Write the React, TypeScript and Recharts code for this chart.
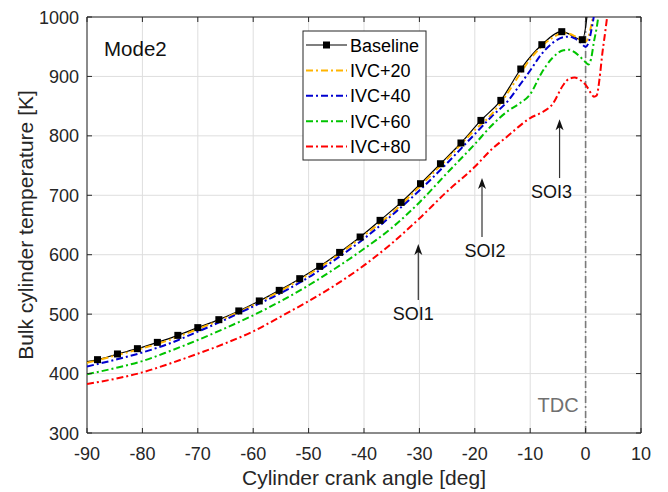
import React from "react";
import {
  CartesianGrid,
  Customized,
  Line,
  LineChart,
  ReferenceArea,
  ReferenceLine,
  XAxis,
  YAxis,
} from "recharts";

const FONT = '"Liberation Sans", Arial, Helvetica, sans-serif';
const INK = "#262626";

// plot box in pixels (from chart margins)
const PLOT_LEFT = 87;
const PLOT_RIGHT = 641;
const PLOT_TOP = 17;
const PLOT_BOTTOM = 433;

const xTicks = [-90, -80, -70, -60, -50, -40, -30, -20, -10, 0, 10];
const yTicks = [300, 400, 500, 600, 700, 800, 900, 1000];

// baseline: one point per marker, plus start and the climb after TDC
const baselineAngle = [
  -90, -88.1, -84.5, -80.9, -77.3, -73.6, -70.0, -66.2, -62.6, -58.9, -55.3,
  -51.6, -48.0, -44.4, -40.7, -37.1, -33.3, -29.8, -26.2, -22.5, -18.9, -15.3,
  -11.7, -7.9, -4.3, -0.6, 0.3, 1.0,
];
const baselineTemp = [
  420, 423.4, 433.0, 441.9, 452.5, 464.3, 477.3, 490.7, 505.4, 522.2, 540.0,
  559.7, 580.4, 603.9, 629.8, 657.8, 688.0, 719.5, 753.1, 788.0, 826.0, 859.7,
  912.5, 953.4, 975.3, 961.8, 1005, 1080,
];

const angleGrid = [
  -90, -85, -80, -75, -70, -65, -60, -55, -50, -45, -40, -35, -30, -25, -20,
  -17, -14, -12, -10, -8, -6, -4, -3, -2, -1, 0, 0.5, 1, 1.5, 2, 2.5, 3, 3.5,
  4, 5,
];
const ivc20 = [
  418, 430, 442.5, 457, 475, 493.5, 515, 539.5, 566.5, 597.5, 632.5, 669.5,
  714.5, 761, 810, 836, 873, 902, 929, 950, 965, 973, 972, 968, 962, 959, 966,
  985, 1010, 1040, 1080, 1120, 1160, 1200, 1280,
];
const ivc40 = [
  412, 423, 435.5, 451, 470.5, 491, 513, 535.5, 562, 593, 627, 666, 708, 754,
  803, 832, 859, 884, 910, 937, 956, 966, 967, 964, 958, 950, 956, 976, 1002,
  1035, 1070, 1110, 1150, 1190, 1270,
];
const ivc60 = [
  399, 409, 421, 438, 456.5, 476.5, 498, 522, 548.5, 578, 610, 645, 688, 737.5,
  786, 817, 842, 854, 870, 905, 931, 944, 945, 941, 933, 924, 920, 930, 958,
  982, 1015, 1050, 1090, 1130, 1200,
];
const ivc80 = [
  382.5, 391, 402, 417, 433.4, 451, 471, 496, 522, 550, 582, 619, 661, 706.5,
  748, 777, 800, 816, 830, 839, 853, 886, 896, 898, 894, 886, 879, 871, 866,
  868, 895, 937, 972, 1008, 1080,
];

const seriesNames = ["Baseline", "IVC+20", "IVC+40", "IVC+60", "IVC+80"];
const seriesKeys = ["base", "ivc20", "ivc40", "ivc60", "ivc80"];
const seriesColors = ["#000000", "#FFB400", "#0000D0", "#00C400", "#FF0000"];

const soiLabels = ["SOI1", "SOI2", "SOI3"];
const soiAngle = [-30.2, -18.7, -4.7];
const soiTip = [618, 729, 828];
const soiTail = [524, 630, 729];
const soiLabelDx = [-5, 3, -8];

const DASH_DOT = "7 3 2 3";

const baselineData = baselineAngle.map((angle, i) => ({
  angle,
  base: baselineTemp[i],
}));

const ivcData = angleGrid.map((angle, i) => ({
  angle,
  ivc20: ivc20[i],
  ivc40: ivc40[i],
  ivc60: ivc60[i],
  ivc80: ivc80[i],
}));

const renderMarker = (props: any) => {
  const { cx, cy, index } = props;
  if (index === 0 || index >= baselineAngle.length - 2) {
    return <g key={`m${index}`} />;
  }
  return (
    <rect key={`m${index}`} x={cx - 3.5} y={cy - 3.5} width={7} height={7} fill="#000" />
  );
};

const XTick = (props: any) => {
  const { x, y, payload } = props;
  return (
    <g>
      <line x1={x} y1={y} x2={x} y2={y - 5} stroke={INK} />
      <line x1={x} y1={PLOT_TOP} x2={x} y2={PLOT_TOP + 5} stroke={INK} />
      <text x={x} y={y + 26.5} textAnchor="middle" fontSize={18} fill={INK} fontFamily={FONT}>
        {payload.value}
      </text>
    </g>
  );
};

const YTick = (props: any) => {
  const { x, y, payload } = props;
  return (
    <g>
      <line x1={x} y1={y} x2={x + 5} y2={y} stroke={INK} />
      <line x1={PLOT_RIGHT - 5} y1={y} x2={PLOT_RIGHT} y2={y} stroke={INK} />
      <text x={x - 8} y={y + 6.5} textAnchor="end" fontSize={18} fill={INK} fontFamily={FONT}>
        {payload.value}
      </text>
    </g>
  );
};

const SoiArrow = (label: string, dx: number) => (props: any) => {
  const { x1, y1, x2, y2 } = props;
  const tipY = Math.min(y1, y2);
  const tailY = Math.max(y1, y2);
  const x = x1 ?? x2;
  return (
    <g>
      <line x1={x} y1={tailY} x2={x} y2={tipY + 6} stroke="#333" strokeWidth={1.2} />
      <path d={`M${x},${tipY} L${x - 4},${tipY + 11} L${x},${tipY + 8} L${x + 4},${tipY + 11} Z`} fill="#111" />
      <text x={x + dx} y={tailY + 20} textAnchor="middle" fontSize={18} fill="#111" fontFamily={FONT}>
        {label}
      </text>
    </g>
  );
};

const Annotations = () => (
  <g fontFamily={FONT}>
    <text x={104} y={56} fontSize={20.5} fill="#111">
      Mode2
    </text>
    <text x={364} y={485} textAnchor="middle" fontSize={21} fill={INK}>
      Cylinder crank angle [deg]
    </text>
    <text
      x={25}
      y={225}
      textAnchor="middle"
      dominantBaseline="central"
      fontSize={21}
      fill={INK}
      transform="rotate(-90 25 225)"
    >
      Bulk cylinder temperature [K]
    </text>
    <rect x={303} y={31} width={123} height={129} fill="#fff" stroke={INK} />
    {seriesNames.map((name, i) => {
      const y = 45 + i * 25.4;
      return (
        <g key={name}>
          <line
            x1={306}
            x2={347}
            y1={y}
            y2={y}
            stroke={seriesColors[i]}
            strokeWidth={i === 0 ? 1.2 : 2}
            strokeDasharray={i === 0 ? undefined : DASH_DOT}
          />
          {i === 0 && <rect x={323} y={y - 3.5} width={7} height={7} fill="#000" />}
          <text x={350} y={y + 6.5} fontSize={18} fill="#000">
            {name}
          </text>
        </g>
      );
    })}
  </g>
);

export default function App() {
  return (
    <div style={{ position: "absolute", left: 0, top: 0, width: 668, height: 492, background: "#fff" }}>
      <LineChart
        width={668}
        height={492}
        margin={{ top: PLOT_TOP, right: 668 - PLOT_RIGHT, bottom: 0, left: 0 }}
      >
        <CartesianGrid stroke="#dedede" horizontalValues={yTicks} verticalValues={xTicks} />
        <XAxis
          type="number"
          dataKey="angle"
          domain={[-90, 10]}
          ticks={xTicks}
          interval={0}
          allowDataOverflow
          height={492 - PLOT_BOTTOM}
          axisLine={false}
          tickLine={false}
          tickSize={0}
          tickMargin={0}
          tick={XTick}
        />
        <YAxis
          type="number"
          domain={[300, 1000]}
          ticks={yTicks}
          interval={0}
          allowDataOverflow
          width={PLOT_LEFT}
          axisLine={false}
          tickLine={false}
          tickSize={0}
          tickMargin={0}
          tick={YTick}
        />
        <ReferenceArea x1={-90} x2={10} y1={300} y2={1000} fill="none" stroke={INK} strokeWidth={1} />
        <ReferenceLine
          x={0}
          stroke="#7a7a7a"
          strokeWidth={1.6}
          strokeDasharray={DASH_DOT}
          label={(p: any) => (
            <text
              x={p.viewBox.x - 7}
              y={p.viewBox.y + p.viewBox.height - 21}
              textAnchor="end"
              fontSize={20}
              fill="#707070"
              fontFamily={FONT}
            >
              TDC
            </text>
          )}
        />
        {soiLabels.map((label, i) => (
          <ReferenceLine
            key={label}
            segment={[
              { x: soiAngle[i], y: soiTail[i] },
              { x: soiAngle[i], y: soiTip[i] },
            ]}
            shape={SoiArrow(label, soiLabelDx[i])}
          />
        ))}
        <Line
          data={baselineData}
          dataKey="base"
          type="monotone"
          stroke="#000"
          strokeWidth={1.2}
          dot={renderMarker}
          activeDot={false}
          isAnimationActive={false}
        />
        {seriesKeys.slice(1).map((key, j) => (
          <Line
            key={key}
            data={ivcData}
            dataKey={key}
            type="monotone"
            stroke={seriesColors[j + 1]}
            strokeWidth={2}
            strokeDasharray={DASH_DOT}
            dot={false}
            activeDot={false}
            isAnimationActive={false}
          />
        ))}
        <Customized component={Annotations} />
      </LineChart>
    </div>
  );
}
